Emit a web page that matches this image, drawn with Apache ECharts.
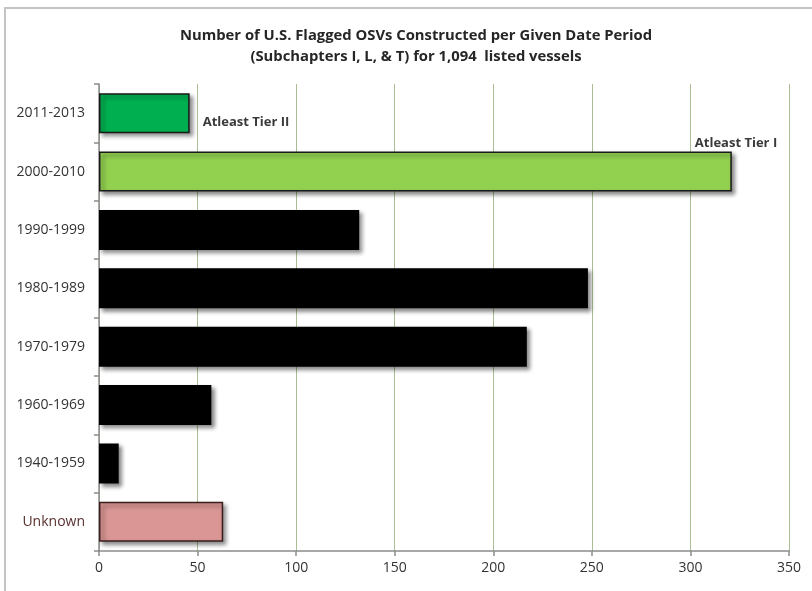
<!DOCTYPE html>
<html>
<head>
<meta charset="utf-8">
<script src="https://cdn.jsdelivr.net/npm/echarts@6/dist/echarts.min.js"></script>
<style>html,body{margin:0;padding:0;background:#fff}#c{width:812px;height:591px}</style>
</head>
<body>
<div id="c"></div>
<script>
const categories = ['Unknown', '1940-1959', '1960-1969', '1970-1979', '1980-1989', '1990-1999', '2000-2010', '2011-2013'];
const values = [63, 10, 57, 217, 248, 132, 321, 46];
const annotations = ['', '', '', '', '', '', 'Atleast Tier I', 'Atleast Tier II'];
const xTicks = [0, 50, 100, 150, 200, 250, 300, 350];

const barColors = ['#d99694', '#000000', '#000000', '#000000', '#000000', '#000000', '#92d050', '#00b050'];
const borderColors = ['#3b1f1f', '#000000', '#000000', '#000000', '#000000', '#000000', '#1a1a1a', '#1a1a1a'];
const labelOffsets = {6: [-42, -28], 7: [8, 9]};

const chart = echarts.init(document.getElementById('c'));
const FONT = '"Open Sans", "Noto Sans", sans-serif';

chart.setOption({
  animation: false,
  backgroundColor: '#fff',
  title: {
    text: 'Number of U.S. Flagged OSVs Constructed per Given Date Period\n(Subchapters I, L, & T) for 1,094  listed vessels',
    left: 411, top: 20, textAlign: 'center',
    textStyle: {fontFamily: FONT, fontSize: 14.8, fontWeight: 'bold', color: '#262626', lineHeight: 21}
  },
  graphic: [{
    type: 'rect', shape: {x: 5, y: 8, width: 900, height: 700},
    style: {fill: 'none', stroke: '#c4c4c4', lineWidth: 2}, silent: true
  }],
  grid: {left: 99, right: 23, top: 84, bottom: 40, containLabel: false},
  xAxis: {
    type: 'value', min: xTicks[0], max: xTicks[xTicks.length - 1], interval: 50,
    axisLine: {show: true, lineStyle: {color: '#8c8c8c', width: 1.5}},
    axisTick: {show: true, length: 5, lineStyle: {color: '#8c8c8c', width: 1.5}},
    axisLabel: {fontFamily: FONT, fontSize: 14, color: '#333333', margin: 10},
    splitLine: {show: true, lineStyle: {color: '#a9be92', width: 1}}
  },
  yAxis: {
    type: 'category', data: categories,
    axisLine: {show: true, lineStyle: {color: '#8c8c8c', width: 1.5}},
    axisTick: {show: true, length: 5, lineStyle: {color: '#8c8c8c', width: 1.5}},
    axisLabel: {
      fontFamily: FONT, fontSize: 14, margin: 14,
      color: function (v, i) { return v === 'Unknown' ? '#5a3030' : '#333333'; }
    },
    splitLine: {show: false}
  },
  series: [{
    type: 'bar', barWidth: 40,
    data: values.map(function (v, i) {
      const item = {
        value: v,
        itemStyle: {
          color: barColors[i], borderColor: borderColors[i], borderWidth: 1.5,
          shadowColor: 'rgba(0,0,0,0.45)', shadowBlur: 4, shadowOffsetX: 3, shadowOffsetY: 3
        }
      };
      if (annotations[i]) {
        item.label = {
          show: true, position: 'right', offset: labelOffsets[i],
          formatter: annotations[i],
          fontFamily: FONT, fontSize: 13, fontWeight: 'bold', color: '#3a3a3a'
        };
      }
      return item;
    })
  }]
});
</script>
</body>
</html>
